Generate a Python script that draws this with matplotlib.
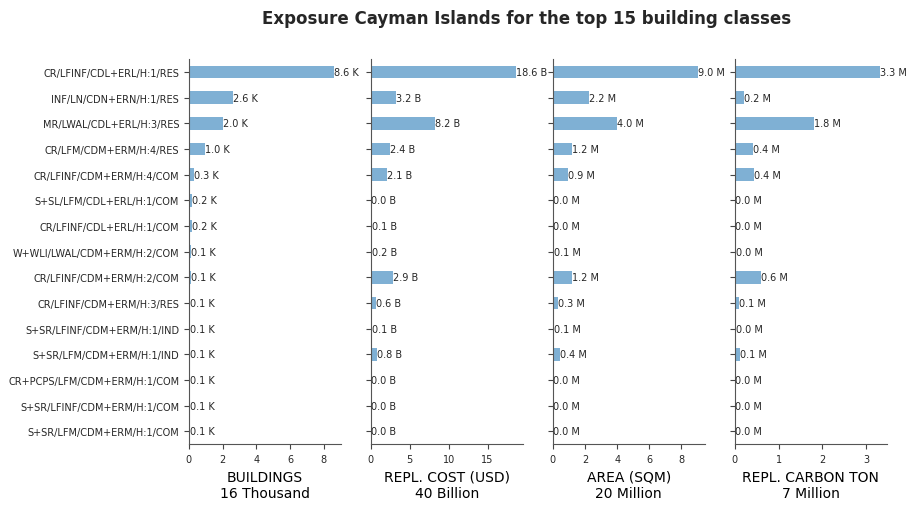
#!/usr/bin/env python3
# -*- coding: utf-8 -*-
"""Exposure per building class, four metrics side by side."""

import numpy as np
import matplotlib
matplotlib.use("Agg")
import matplotlib.pyplot as plt

classes = [
    "CR/LFINF/CDL+ERL/H:1/RES",
    "INF/LN/CDN+ERN/H:1/RES",
    "MR/LWAL/CDL+ERL/H:3/RES",
    "CR/LFM/CDM+ERM/H:4/RES",
    "CR/LFINF/CDM+ERM/H:4/COM",
    "S+SL/LFM/CDL+ERL/H:1/COM",
    "CR/LFINF/CDL+ERL/H:1/COM",
    "W+WLI/LWAL/CDM+ERM/H:2/COM",
    "CR/LFINF/CDM+ERM/H:2/COM",
    "CR/LFINF/CDM+ERM/H:3/RES",
    "S+SR/LFINF/CDM+ERM/H:1/IND",
    "S+SR/LFM/CDM+ERM/H:1/IND",
    "CR+PCPS/LFM/CDM+ERM/H:1/COM",
    "S+SR/LFINF/CDM+ERM/H:1/COM",
    "S+SR/LFM/CDM+ERM/H:1/COM",
]

# thousands of buildings
buildings = [8.58, 2.64, 2.0, 0.97, 0.33, 0.2, 0.16, 0.12, 0.13, 0.09, 0.08, 0.08, 0.06, 0.06, 0.05]
# billion USD
repl_cost = [18.6, 3.2, 8.2, 2.4, 2.1, 0.02, 0.1, 0.18, 2.85, 0.6, 0.1, 0.8, 0.02, 0.02, 0.01]
# million sqm
area = [9.0, 2.22, 3.98, 1.18, 0.92, 0.02, 0.02, 0.08, 1.22, 0.3, 0.1, 0.42, 0.02, 0.02, 0.01]
# million ton
carbon = [3.3, 0.22, 1.8, 0.42, 0.44, 0.01, 0.01, 0.02, 0.6, 0.1, 0.02, 0.12, 0.01, 0.01, 0.01]

metrics = [buildings, repl_cost, area, carbon]
units = ["K", "B", "M", "M"]
xlabels = [
    "BUILDINGS\n16 Thousand",
    "REPL. COST (USD)\n40 Billion",
    "AREA (SQM)\n20 Million",
    "REPL. CARBON TON\n7 Million",
]

BAR = "#7fb0d4"
TXT = "#262626"

fig, axes = plt.subplots(1, 4, figsize=(9.17, 5.10), dpi=100)
fig.subplots_adjust(left=0.206, right=0.967, top=0.882, bottom=0.127, wspace=0.197)

y = np.arange(len(classes))
for i, (ax, vals, unit, xl) in enumerate(zip(axes, metrics, units, xlabels)):
    ax.barh(y, vals, height=0.5, color=BAR)
    for yi, v in zip(y, vals):
        ax.text(v, yi, f"{v:.1f} {unit}", va="center", ha="left",
                fontsize=7, color=TXT)
    ax.set_ylim(len(classes) - 0.5, -0.5)
    ax.set_xlim(0, max(vals) * 1.05)
    ax.set_yticks(y)
    if i == 0:
        ax.set_yticklabels(classes, fontsize=7, color=TXT)
    else:
        ax.set_yticklabels([])
    ax.tick_params(axis="x", labelsize=7, labelcolor=TXT, color="#444444")
    ax.tick_params(axis="y", color="#444444")
    ax.set_xlabel(xl, fontsize=10)
    for s in ("top", "right"):
        ax.spines[s].set_visible(False)
    for s in ("left", "bottom"):
        ax.spines[s].set_color("#555555")

fig.text(0.574, 0.962, "Exposure Cayman Islands for the top 15 building classes",
         ha="center", va="center", fontsize=12, fontweight="bold", color=TXT)

fig.savefig("out.png", dpi=100)
